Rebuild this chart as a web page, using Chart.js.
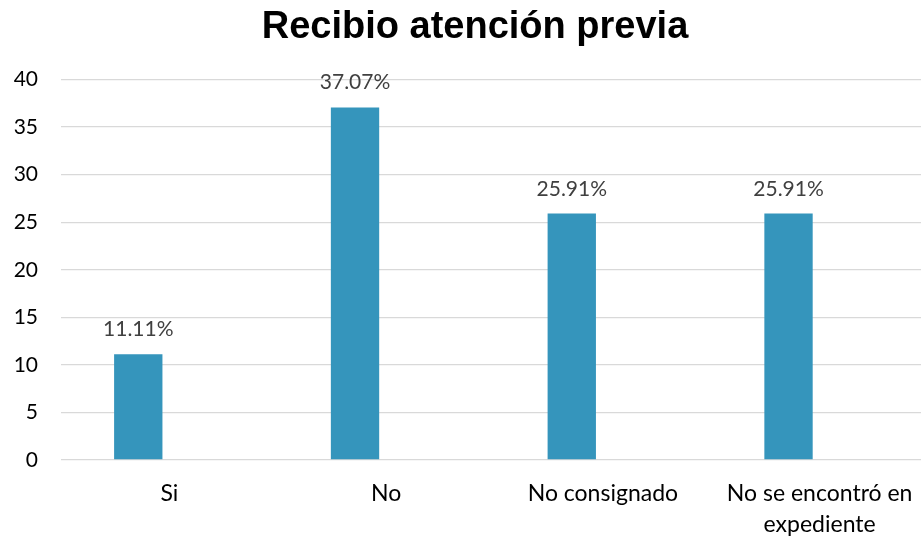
<!DOCTYPE html>
<html>
<head>
<meta charset="utf-8">
<script src="https://cdn.jsdelivr.net/npm/chart.js@4.4.1/dist/chart.umd.min.js"></script>
<style>
  html, body { margin: 0; padding: 0; background: #ffffff; overflow: hidden; }
  #wrap { position: relative; width: 950px; height: 541px; }
</style>
</head>
<body>
<div id="wrap"><canvas id="c"></canvas></div>
<script>
const categories = ['Si', 'No', 'No consignado', ['No se encontró en', 'expediente']];
const values = [11.11, 37.07, 25.91, 25.91];
const emptySeries = [null, null, null, null];
const yTicks = [0, 5, 10, 15, 20, 25, 30, 35, 40];
const chartTitle = 'Recibio atención previa';

const valueLabels = {
  id: 'valueLabels',
  afterDatasetsDraw(chart) {
    const ctx = chart.ctx;
    const meta = chart.getDatasetMeta(0);
    ctx.save();
    ctx.font = '21px Lato, "Open Sans", sans-serif';
    ctx.fillStyle = '#404040';
    ctx.textAlign = 'center';
    ctx.textBaseline = 'alphabetic';
    meta.data.forEach((bar, i) => {
      const v = chart.data.datasets[0].data[i];
      ctx.fillText(v.toFixed(2) + '%', bar.x, bar.y - 18);
    });
    ctx.restore();
  }
};

new Chart(document.getElementById('c'), {
  type: 'bar',
  data: {
    labels: categories,
    datasets: [
      { label: 'Serie 1', data: values, backgroundColor: '#3595BC', borderWidth: 0,
        categoryPercentage: 0.574, barPercentage: 0.777 },
      { label: 'Serie 2', data: emptySeries, backgroundColor: '#3595BC',
        categoryPercentage: 0.574, barPercentage: 0.777 }
    ]
  },
  options: {
    responsive: true,
    maintainAspectRatio: false,
    animation: false,
    layout: { padding: 0 },
    plugins: {
      legend: { display: false },
      tooltip: { enabled: false },
      title: {
        display: true,
        text: chartTitle,
        color: '#000000',
        font: { family: '"Liberation Sans", Arial, sans-serif', size: 38, weight: 'bold' },
        padding: { top: 5, bottom: 29 }
      }
    },
    scales: {
      x: {
        grid: { display: false, drawTicks: false },
        border: { display: false },
        afterFit(scale) { scale.height = 81; },
        ticks: {
          color: '#000000',
          font: { family: 'Lato, "Open Sans", sans-serif', size: 23, lineHeight: 1.35 },
          padding: 18,
          maxRotation: 0,
          autoSkip: false
        }
      },
      y: {
        min: 0,
        max: 40,
        afterBuildTicks(scale) { scale.ticks = yTicks.map(v => ({ value: v })); },
        afterFit(scale) { scale.width = 61; },
        grid: { color: '#D9D9D9', lineWidth: 1.3, drawTicks: false },
        border: { display: false },
        ticks: {
          color: '#000000',
          font: { family: 'Lato, "Open Sans", sans-serif', size: 21 },
          padding: 23
        }
      },
      y2: {
        position: 'right',
        display: true,
        grid: { display: false, drawTicks: false },
        border: { display: false },
        ticks: { display: false },
        afterFit(scale) { scale.width = 22; }
      }
    }
  },
  plugins: [valueLabels]
});
</script>
</body>
</html>
